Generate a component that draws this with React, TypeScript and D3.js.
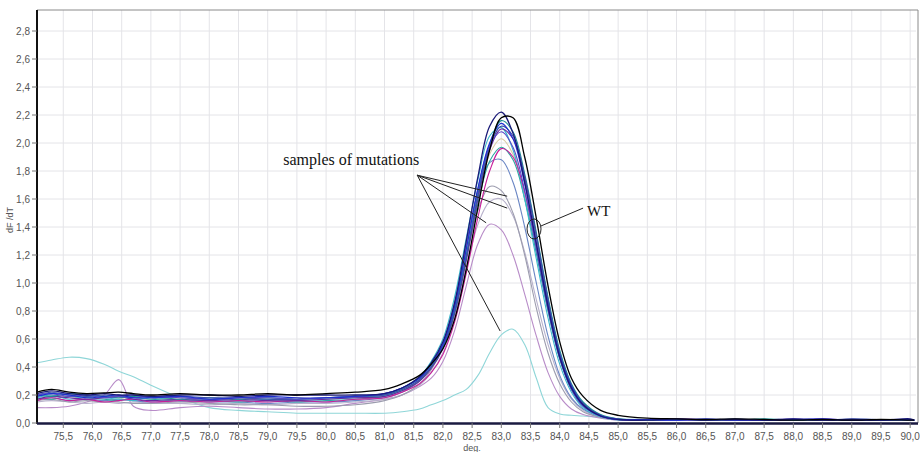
import React from "react";
import * as d3 from "d3";

// Temperature grid (deg.)
const temps = [75.05, 75.3, 75.6, 75.9, 76.2, 76.45, 76.7, 77.0, 77.5, 78.0, 78.5, 79.0, 79.5, 80.0, 80.5,
  81.0, 81.3, 81.6, 81.8, 82.0, 82.2, 82.4, 82.6, 82.8, 83.0, 83.2, 83.4, 83.6, 83.8, 84.0, 84.2, 84.4, 84.7, 85.0,
  85.5, 86.0, 86.5, 87.0, 87.5, 88.0, 88.5, 89.0, 89.5, 90.0, 90.07];

// dF/dT series
const sLightCyan = [0.43, 0.45, 0.47, 0.46, 0.42, 0.37, 0.33, 0.27, 0.18, 0.11, 0.09, 0.08, 0.07, 0.07, 0.07,
  0.07, 0.08, 0.1, 0.13, 0.16, 0.2, 0.24, 0.34, 0.5, 0.63, 0.67, 0.56, 0.32, 0.11, 0.065, 0.055, 0.05, 0.04, 0.03,
  0.025, 0.02, 0.02, 0.02, 0.02, 0.02, 0.02, 0.02, 0.02, 0.02, 0.02];
const sMauve = [0.11, 0.11, 0.12, 0.15, 0.2, 0.31, 0.12, 0.09, 0.11, 0.12, 0.11, 0.1, 0.1, 0.11, 0.14,
  0.17, 0.2, 0.26, 0.32, 0.44, 0.66, 0.98, 1.28, 1.42, 1.38, 1.2, 0.92, 0.62, 0.36, 0.19, 0.1, 0.06, 0.035, 0.02,
  0.02, 0.02, 0.025, 0.02, 0.02, 0.02, 0.02, 0.025, 0.02, 0.02, 0.02];
const sLightGray = [0.15, 0.16, 0.15, 0.14, 0.15, 0.14, 0.15, 0.14, 0.14, 0.13, 0.14, 0.13, 0.14, 0.14, 0.15,
  0.17, 0.2, 0.27, 0.36, 0.5, 0.75, 1.1, 1.42, 1.58, 1.6, 1.48, 1.22, 0.88, 0.56, 0.32, 0.17, 0.09, 0.04, 0.025,
  0.02, 0.02, 0.02, 0.02, 0.025, 0.02, 0.02, 0.02, 0.02, 0.02, 0.02];
const sGray = [0.16, 0.17, 0.15, 0.16, 0.15, 0.15, 0.14, 0.14, 0.15, 0.14, 0.13, 0.13, 0.12, 0.12, 0.13,
  0.16, 0.2, 0.28, 0.38, 0.54, 0.82, 1.2, 1.52, 1.69, 1.66, 1.5, 1.2, 0.82, 0.5, 0.28, 0.15, 0.08, 0.04, 0.025,
  0.02, 0.025, 0.02, 0.02, 0.02, 0.025, 0.02, 0.02, 0.02, 0.02, 0.02];
const sTan = [0.19, 0.2, 0.19, 0.18, 0.19, 0.18, 0.18, 0.17, 0.18, 0.17, 0.18, 0.17, 0.18, 0.17, 0.18,
  0.2, 0.24, 0.31, 0.41, 0.55, 0.8, 1.18, 1.6, 1.92, 2.03, 1.92, 1.62, 1.22, 0.8, 0.46, 0.24, 0.12, 0.05, 0.025,
  0.02, 0.02, 0.02, 0.02, 0.025, 0.02, 0.02, 0.02, 0.02, 0.02, 0.02];
const sSteel = [0.17, 0.18, 0.16, 0.17, 0.16, 0.17, 0.16, 0.15, 0.16, 0.15, 0.15, 0.14, 0.15, 0.15, 0.16,
  0.18, 0.22, 0.3, 0.41, 0.57, 0.86, 1.28, 1.65, 1.86, 1.88, 1.72, 1.4, 1.0, 0.62, 0.34, 0.18, 0.1, 0.045, 0.025,
  0.02, 0.02, 0.02, 0.025, 0.02, 0.02, 0.02, 0.02, 0.02, 0.02, 0.02];
const sTeal2 = [0.18, 0.17, 0.19, 0.18, 0.17, 0.16, 0.18, 0.17, 0.16, 0.16, 0.15, 0.16, 0.15, 0.16, 0.17,
  0.19, 0.23, 0.3, 0.4, 0.55, 0.8, 1.18, 1.57, 1.87, 1.97, 1.88, 1.6, 1.21, 0.8, 0.46, 0.24, 0.12, 0.05, 0.025,
  0.02, 0.02, 0.025, 0.02, 0.02, 0.02, 0.02, 0.02, 0.025, 0.02, 0.02];
const sCyan = [0.18, 0.2, 0.17, 0.19, 0.18, 0.17, 0.16, 0.18, 0.16, 0.17, 0.16, 0.17, 0.16, 0.17, 0.18,
  0.2, 0.25, 0.33, 0.44, 0.6, 0.9, 1.32, 1.74, 2.05, 2.11, 1.95, 1.6, 1.17, 0.75, 0.42, 0.22, 0.11, 0.045, 0.022,
  0.02, 0.02, 0.025, 0.02, 0.02, 0.02, 0.025, 0.02, 0.02, 0.02, 0.02];
const sMagenta = [0.16, 0.18, 0.16, 0.17, 0.15, 0.16, 0.17, 0.15, 0.16, 0.15, 0.16, 0.15, 0.16, 0.15, 0.17,
  0.18, 0.22, 0.28, 0.36, 0.49, 0.72, 1.07, 1.47, 1.8, 1.96, 1.9, 1.65, 1.27, 0.85, 0.49, 0.26, 0.13, 0.05, 0.025,
  0.02, 0.025, 0.02, 0.025, 0.02, 0.02, 0.02, 0.025, 0.02, 0.02, 0.02];
const sPurple = [0.17, 0.19, 0.18, 0.17, 0.18, 0.19, 0.17, 0.16, 0.17, 0.16, 0.17, 0.16, 0.16, 0.17, 0.18,
  0.19, 0.23, 0.3, 0.39, 0.53, 0.78, 1.16, 1.6, 1.95, 2.1, 2.03, 1.75, 1.33, 0.88, 0.5, 0.27, 0.14, 0.055, 0.028,
  0.02, 0.03, 0.025, 0.02, 0.025, 0.02, 0.03, 0.02, 0.025, 0.02, 0.02];
const sTeal = [0.2, 0.19, 0.21, 0.2, 0.19, 0.18, 0.19, 0.19, 0.17, 0.18, 0.17, 0.18, 0.17, 0.18, 0.19,
  0.2, 0.24, 0.31, 0.4, 0.54, 0.8, 1.2, 1.64, 1.99, 2.16, 2.08, 1.78, 1.36, 0.9, 0.52, 0.28, 0.15, 0.06, 0.03,
  0.02, 0.025, 0.02, 0.02, 0.03, 0.02, 0.02, 0.025, 0.02, 0.02, 0.02];
const sSlate = [0.2, 0.22, 0.2, 0.19, 0.2, 0.19, 0.2, 0.18, 0.19, 0.18, 0.18, 0.17, 0.17, 0.18, 0.19,
  0.2, 0.24, 0.31, 0.4, 0.54, 0.79, 1.18, 1.62, 1.97, 2.12, 2.05, 1.76, 1.34, 0.88, 0.5, 0.27, 0.14, 0.055, 0.028,
  0.025, 0.02, 0.02, 0.03, 0.02, 0.025, 0.02, 0.03, 0.025, 0.02, 0.02];
const sViolet = [0.2, 0.21, 0.19, 0.2, 0.18, 0.19, 0.18, 0.19, 0.18, 0.17, 0.18, 0.18, 0.17, 0.18, 0.19,
  0.21, 0.25, 0.32, 0.42, 0.57, 0.84, 1.25, 1.67, 1.98, 2.08, 1.97, 1.66, 1.24, 0.81, 0.46, 0.24, 0.12, 0.05, 0.025,
  0.025, 0.02, 0.025, 0.02, 0.02, 0.03, 0.02, 0.025, 0.02, 0.025, 0.02];
const sBlue = [0.19, 0.21, 0.2, 0.18, 0.19, 0.2, 0.18, 0.18, 0.19, 0.17, 0.18, 0.19, 0.18, 0.18, 0.19,
  0.21, 0.25, 0.32, 0.42, 0.56, 0.83, 1.24, 1.68, 2.0, 2.14, 2.03, 1.71, 1.28, 0.84, 0.48, 0.26, 0.13, 0.05, 0.025,
  0.025, 0.02, 0.03, 0.02, 0.02, 0.025, 0.03, 0.02, 0.02, 0.025, 0.02];
const sNavy = [0.21, 0.23, 0.21, 0.2, 0.21, 0.2, 0.2, 0.19, 0.2, 0.2, 0.19, 0.2, 0.2, 0.2, 0.2,
  0.21, 0.25, 0.33, 0.43, 0.58, 0.86, 1.3, 1.76, 2.12, 2.22, 2.07, 1.72, 1.28, 0.83, 0.47, 0.25, 0.13, 0.05, 0.025,
  0.02, 0.03, 0.02, 0.025, 0.02, 0.03, 0.02, 0.025, 0.02, 0.03, 0.02];
const sBlack = [0.22, 0.24, 0.22, 0.21, 0.215, 0.22, 0.21, 0.2, 0.21, 0.2, 0.2, 0.21, 0.2, 0.21, 0.22,
  0.24, 0.28, 0.34, 0.42, 0.53, 0.74, 1.1, 1.54, 1.95, 2.18, 2.18, 1.9, 1.46, 0.98, 0.58, 0.32, 0.19, 0.09, 0.055,
  0.035, 0.03, 0.025, 0.03, 0.025, 0.02, 0.025, 0.02, 0.025, 0.02, 0.02];

const seriesList = [sLightCyan, sMauve, sLightGray, sGray, sTan, sSteel, sTeal2, sCyan, sMagenta, sPurple,
  sTeal, sSlate, sViolet, sBlue, sNavy, sBlack];
const seriesColors = ["#8fd6d8", "#b88cc8", "#b8b2cc", "#9c9cae", "#d8caa4", "#6a86c4", "#2aa6a0", "#3bb8cc",
  "#c81e9a", "#6a2aa0", "#1b8f95", "#3a4fa8", "#5848c8", "#1f2fd0", "#1a1a78", "#000000"];

const xTicks = [75.5, 76.0, 76.5, 77.0, 77.5, 78.0, 78.5, 79.0, 79.5, 80.0, 80.5, 81.0, 81.5, 82.0, 82.5,
  83.0, 83.5, 84.0, 84.5, 85.0, 85.5, 86.0, 86.5, 87.0, 87.5, 88.0, 88.5, 89.0, 89.5, 90.0];
const yTicks = [0, 0.2, 0.4, 0.6, 0.8, 1.0, 1.2, 1.4, 1.6, 1.8, 2.0, 2.2, 2.4, 2.6, 2.8];

// annotations (data coords)
const mutOrigin = [81.56, 1.77];
const mutTargets = [[83.1, 1.62], [83.1, 1.535], [82.74, 1.43], [82.98, 0.657]];
const wtPoint = [83.56, 1.386];
const wtLabelPoint = [84.4, 1.535];

const W = 920, H = 452;
const L = 37, R = 916, T = 10, B = 423;

export default function App() {
  const x = d3.scaleLinear().domain([75.05, 90.1]).range([L, R]);
  const y = d3.scaleLinear().domain([0, 2.95]).range([B, T]);
  const line = d3.line<number>().x((_, i) => x(temps[i])).y((v) => y(v)).curve(d3.curveCatmullRom.alpha(0.5));
  const fmt = (v: number) => v.toFixed(1).replace(".", ",");
  const ox = x(mutOrigin[0]), oy = y(mutOrigin[1]);
  const wx = x(wtPoint[0]), wy = y(wtPoint[1]);
  const lx = x(wtLabelPoint[0]), ly = y(wtLabelPoint[1]);
  return (
    <svg width={W} height={H} style={{ position: "absolute", left: 0, top: 0, background: "#fff" }}>
      <rect x={0} y={0} width={W} height={H} fill="#fff" />
      {/* grid */}
      {xTicks.map((t) => (
        <line key={"gx" + t} x1={x(t)} x2={x(t)} y1={T} y2={B} stroke="#e4e4e8" strokeWidth={1} />
      ))}
      {yTicks.filter((t) => t > 0).map((t) => (
        <line key={"gy" + t} x1={L} x2={R} y1={y(t)} y2={y(t)} stroke="#e4e4e8" strokeWidth={1} />
      ))}
      {/* frame */}
      <line x1={L} x2={R + 2} y1={T} y2={T} stroke="#8a8a8a" strokeWidth={1} />
      <line x1={R + 2} x2={R + 2} y1={T} y2={B} stroke="#8a8a8a" strokeWidth={1} />
      {/* series */}
      <g fill="none">
        {seriesList.map((s, i) => (
          <path key={i} d={line(s) || ""} stroke={seriesColors[i]} strokeWidth={i >= 14 ? 1.3 : 1.1} />
        ))}
      </g>
      {/* axes */}
      <line x1={L} x2={L} y1={T} y2={B + 1} stroke="#111" strokeWidth={2} />
      <line x1={L} x2={R + 2} y1={B + 0.5} y2={B + 0.5} stroke="#1a1a40" strokeWidth={2.5} />
      {yTicks.map((t) => (
        <g key={"yt" + t}>
          <line x1={L - 5} x2={L} y1={y(t)} y2={y(t)} stroke="#777" />
          <text x={L - 7} y={y(t) + 3.5} textAnchor="end" fontFamily="Liberation Sans, Arial, sans-serif"
            fontSize={10} fill="#555">{fmt(t)}</text>
        </g>
      ))}
      {xTicks.map((t) => (
        <g key={"xt" + t}>
          <line x1={x(t)} x2={x(t)} y1={B} y2={B + 5} stroke="#777" />
          <text x={x(t)} y={440} textAnchor="middle" fontFamily="Liberation Sans, Arial, sans-serif"
            fontSize={10} fill="#555">{fmt(t)}</text>
        </g>
      ))}
      <text x={x(82.5)} y={451} textAnchor="middle" fontFamily="Liberation Sans, Arial, sans-serif"
        fontSize={9} fill="#555">deg.</text>
      <text transform={`translate(13,${y(1.45)}) rotate(-90)`} textAnchor="middle"
        fontFamily="Liberation Sans, Arial, sans-serif" fontSize={9} fill="#555">dF /dT</text>
      {/* annotations */}
      <text x={ox + 2} y={oy - 10} textAnchor="end" fontFamily="Liberation Serif, Times New Roman, serif"
        fontSize={16} fill="#111">samples of mutations</text>
      {mutTargets.map((p, i) => (
        <line key={"m" + i} x1={ox} y1={oy} x2={x(p[0])} y2={y(p[1])} stroke="#222" strokeWidth={1} />
      ))}
      <ellipse cx={wx} cy={wy} rx={7} ry={10} fill="none" stroke="#222" strokeWidth={1} />
      <line x1={wx + 7} y1={wy - 3} x2={lx} y2={ly} stroke="#222" strokeWidth={1} />
      <text x={lx + 4} y={ly + 8} fontFamily="Liberation Serif, Times New Roman, serif" fontSize={15}
        fill="#111">WT</text>
    </svg>
  );
}
